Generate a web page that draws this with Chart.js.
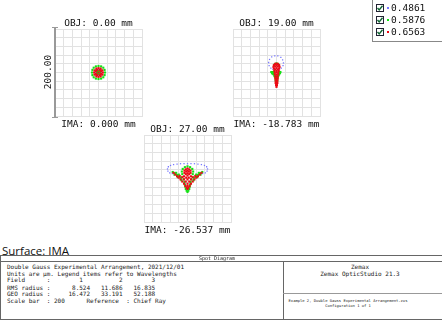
<!DOCTYPE html>
<html>
<head>
<meta charset="utf-8">
<script src="https://cdn.jsdelivr.net/npm/chart.js@4.4.0/dist/chart.umd.min.js"></script>
<style>
  body { margin: 0; width: 442px; height: 320px; background: #fff; position: relative; overflow: hidden; color: #111; font-family: "DejaVu Sans Mono", monospace; }
  .lbl { position: absolute; font-size: 9.5px; white-space: pre; transform: translate(-50%, -50%); }
  .plot { position: absolute; }
  .tbl { position: absolute; font-family: "DejaVu Sans Mono", monospace; font-size: 6px; white-space: pre; transform: translateY(-50%); color: #222; }
  .line { position: absolute; background: #666; }
  .leg { position: absolute; left: 372px; top: -1px; width: 75px; height: 41px; border: 1px solid #888; background: #fff; }
  .row { position: absolute; left: 3px; height: 10px; font-size: 9.5px; }
</style>
</head>
<body>
<script>
// wavelengths (µm) and fields
const wavelengths = ['0.4861', '0.5876', '0.6563'];
const waveColors = ['rgb(120,120,255)', 'rgb(20,225,20)', 'rgb(235,10,20)'];
const objLabels = ['OBJ: 0.00 mm', 'OBJ: 19.00 mm', 'OBJ: 27.00 mm'];
const imaLabels = ['IMA: 0.000 mm', 'IMA: -18.783 mm', 'IMA: -26.537 mm'];
const fieldNums = ['1', '2', '3'];
const rmsRadius = ['8.524', '11.686', '16.835'];
const geoRadius = ['16.472', '33.191', '52.188'];
const scaleBar = 200;

// spot points (µm, relative to chief ray)
const f1Blue = [[8,0],[6,6],[0,8],[-6,6],[-8,0],[-6,-6],[0,-8],[6,-6]];
const f1Green = [[15,0],[14,6],[11,11],[6,14],[0,15],[-6,14],[-11,11],[-14,6],[-15,0],[-14,-6],[-11,-11],[-6,-14],[0,-15],[6,-14],[11,-11],[14,-6],
  [3,0],[2,2],[0,3],[-2,2],[-3,0],[-2,-2],[0,-3],[2,-2]];
const f1Red = [[10,0],[9,5],[5,9],[0,10],[-5,9],[-9,5],[-10,0],[-9,-5],[-5,-9],[0,-10],[5,-9],[9,-5],
  [6,3],[3,6],[-3,6],[-6,3],[-6,-3],[-3,-6],[3,-6],[6,-3],[0,0]];

const f2Blue = [[16,22],[14,29],[10,35],[3,38],[-4,38],[-11,36],[-16,30],[-18,23],[-17,16],[-13,10],[-8,7],[6,7],[11,10],[15,16],
  [0,2],[0,-8],[0,-18],[0,-26],[-1,-25],[1,-25]];
const f2Green = [[-12,1],[-9,1],[-6,2],[9,1],[6,2],[-10,-2],[-7,-4],[-9,-1],[7,-2],[8,-1],[5,-5],[-5,-7],[4,-8],[-3,-10],[2,-11],[0,-13],
  [-7,-3],[6,-4],[-4,-9],[3,-10],
  [0,21],[-4,19],[4,19],[-2,-18],[2,-18],[0,-22]];
const f2Red = [[0,20],[-3,20],[3,20],[-6,17],[6,17],[-7,13],[7,13],[0,16],[-3,14],[3,14],
  [-6,9],[6,9],[0,10],[-3,7],[3,7],[-5,4],[5,4],[0,4],[-4,0],[4,0],[0,0],[-4,-4],[4,-4],[0,-5],
  [-3,-9],[3,-9],[0,-10],[-3,-14],[3,-14],[0,-15],[-2,-19],[2,-19],[0,-20],[-2,-24],[2,-24],[0,-25],[-1,-29],[1,-29],[0,-33]];

const f3Blue = [[-46,22],[-44,27],[-39,30],[-32,32],[-24,33],[-16,34],[-8,34],[0,34],[8,34],[16,34],[24,33],[32,32],[39,30],[44,27],[46,22],
  [-45,17],[-41,13],[-35,11],[45,17],[41,13],[35,11],[-28,10],[28,10],
  [-22,6],[22,6],[-14,-2],[14,-2],[-6,-12],[6,-12]];
const f3Green = [[0,28],[-6,26],[6,26],[-11,22],[11,22],[-13,16],[13,16],[-12,10],[12,10],
  [-34,15],[-29,12],[-24,8],[-19,5],[-15,2],[34,15],[29,12],[24,8],[19,5],[15,2],
  [-9,-2],[9,-2],[-7,-8],[7,-8],[-6,-14],[6,-14],[-5,-19],[5,-19],[-4,-24],[4,-24],[-2,-28],[2,-28],[0,-31],
  [-26,13],[26,13],[-20,9],[20,9],[-30,9],[30,9],[-22,3],[22,3],[-14,-4],[14,-4]];
const f3Red = [[0,23],[-4,21],[4,21],[-7,18],[7,18],[0,18],[-3,16],[3,16],[-7,13],[7,13],[0,12],[-4,10],[4,10],[0,7],
  [-32,13],[-28,9],[-24,5],[-20,2],[-16,-2],[-12,-7],[-8,-12],[-5,-17],[-2,-21],[0,-24],
  [32,13],[28,9],[24,5],[20,2],[16,-2],[12,-7],[8,-12],[5,-17],[2,-21],
  [-18,6],[18,6],[-12,3],[12,3],[-8,-2],[8,-2],[-4,-7],[4,-7],[0,-12],[0,-2],[-3,2],[3,2],[0,-17],[-8,5],[8,5]];

const spots = [[f1Blue, f1Green, f1Red], [f2Blue, f2Green, f2Red], [f3Blue, f3Green, f3Red]];
// top-left corner of each plot box
const boxPos = [[53, 27], [231, 27], [142, 133]];
const boxSize = 91;

function addDiv(cls, css, text) {
  const d = document.createElement('div');
  d.className = cls;
  Object.assign(d.style, css);
  if (text !== undefined) d.textContent = text;
  document.body.appendChild(d);
  return d;
}

spots.forEach((sets, i) => {
  const [bx, by] = boxPos[i];
  const pad = 2;
  const cv = document.createElement('canvas');
  cv.width = boxSize + 2 * pad;
  cv.height = boxSize + 2 * pad;
  cv.className = 'plot';
  cv.style.left = (bx - pad) + 'px';
  cv.style.top = (by - pad) + 'px';
  document.body.appendChild(cv);

  new Chart(cv, {
    type: 'scatter',
    data: {
      datasets: sets.map((pts, w) => ({
        label: wavelengths[w],
        data: pts.map(p => ({ x: p[0], y: p[1] })),
        pointStyle: 'rect',
        pointRadius: w === 0 ? 0.9 : 1.5,
        borderWidth: 0,
        backgroundColor: waveColors[w],
        order: 3 - w
      }))
    },
    options: {
      responsive: false,
      animation: false,
      events: [],
      layout: { padding: pad },
      plugins: { legend: { display: false }, tooltip: { enabled: false } },
      scales: {
        x: {
          min: -scaleBar / 2, max: scaleBar / 2,
          ticks: { display: false, stepSize: 20 },
          grid: { color: '#e2e2e2', drawTicks: false },
          border: { color: '#e2e2e2' },
          afterFit: s => { s.height = 0; }
        },
        y: {
          min: -scaleBar / 2, max: scaleBar / 2,
          ticks: { display: false, stepSize: 20 },
          grid: { color: '#e2e2e2', drawTicks: false },
          border: { color: '#e2e2e2' },
          afterFit: s => { s.width = 0; }
        }
      }
    }
  });

  const cx = bx + boxSize / 2;
  addDiv('lbl', { left: cx + 'px', top: (by - 5) + 'px' }, objLabels[i]);
  addDiv('lbl', { left: cx + 'px', top: (by + boxSize + 5) + 'px' }, imaLabels[i]);
});

// scale bar
addDiv('line', { left: '54px', top: '27px', width: '2px', height: '91px', background: '#999' });
addDiv('line', { left: '52px', top: '27px', width: '6px', height: '1px', background: '#999' });
addDiv('line', { left: '52px', top: '117px', width: '6px', height: '1px', background: '#999' });
addDiv('lbl', { left: '47px', top: '72px', transform: 'translate(-50%,-50%) rotate(-90deg)' }, scaleBar.toFixed(2));

// legend
const leg = addDiv('leg', {});
wavelengths.forEach((w, k) => {
  const r = document.createElement('div');
  r.className = 'row';
  r.style.top = (3 + k * 12) + 'px';
  r.innerHTML = '<svg width="8" height="8" style="position:absolute;left:0;top:1px"><rect x="0.5" y="0.5" width="7" height="7" fill="#fff" stroke="#223"/>' +
    '<polyline points="1.5,4 3.2,6 6.5,1.8" fill="none" stroke="#163" stroke-width="1.4"/></svg>' +
    '<span style="position:absolute;left:11px;top:4px;width:2px;height:2px;background:' + waveColors[k] + '"></span>' +
    '<span style="position:absolute;left:15px;top:-1px">' + w + '</span>';
  leg.appendChild(r);
});

// surface label
addDiv('tbl', { left: '2px', top: '249.5px', fontFamily: '"Open Sans", sans-serif', fontSize: '11.5px', color: '#111' }, 'Surface: IMA');

// table frame
addDiv('line', { left: '0px', top: '255px', width: '442px', height: '1px' });
addDiv('line', { left: '0px', top: '261px', width: '442px', height: '1px' });
addDiv('line', { left: '0px', top: '319px', width: '442px', height: '1px' });
addDiv('line', { left: '0px', top: '255px', width: '1px', height: '65px' });
addDiv('line', { left: '283px', top: '261px', width: '1px', height: '59px' });
addDiv('line', { left: '283px', top: '293px', width: '159px', height: '1px', background: '#999' });

addDiv('tbl', { left: '217px', top: '258.3px', fontSize: '5px', transform: 'translate(-50%,-50%)' }, 'Spot Diagram');

const pad = (s, n) => s.padStart(n, ' ');
const rowsY = [265.7, 272.5, 279.4, 286.5, 293.4, 300.3];
const textLines = [
  'Double Gauss Experimental Arrangement, 2021/12/01',
  'Units are \u00b5m. Legend items refer to Wavelengths',
  'Field      :' + pad(fieldNums[0], 9) + pad(fieldNums[1], 11) + pad(fieldNums[2], 9),
  'RMS radius :' + pad(rmsRadius[0], 11) + pad(rmsRadius[1], 9) + pad(rmsRadius[2], 9),
  'GEO radius :' + pad(geoRadius[0], 11) + pad(geoRadius[1], 9) + pad(geoRadius[2], 9),
  'Scale bar  : ' + scaleBar + '      Reference  : Chief Ray'
];
textLines.forEach((t, k) => addDiv('tbl', { left: '7px', top: rowsY[k] + 'px' }, t));

addDiv('tbl', { left: '360px', top: rowsY[0] + 'px', transform: 'translate(-50%,-50%)' }, 'Zemax');
addDiv('tbl', { left: '360px', top: rowsY[1] + 'px', transform: 'translate(-50%,-50%)' }, 'Zemax OpticStudio 21.3');
addDiv('tbl', { left: '348px', top: '300px', fontSize: '3.8px', transform: 'translate(-50%,-50%)' }, 'Example 2, Double Gauss Experimental Arrangement.zos');
addDiv('tbl', { left: '348px', top: '305px', fontSize: '3.8px', transform: 'translate(-50%,-50%)' }, 'Configuration 1 of 1');
</script>
</body>
</html>
